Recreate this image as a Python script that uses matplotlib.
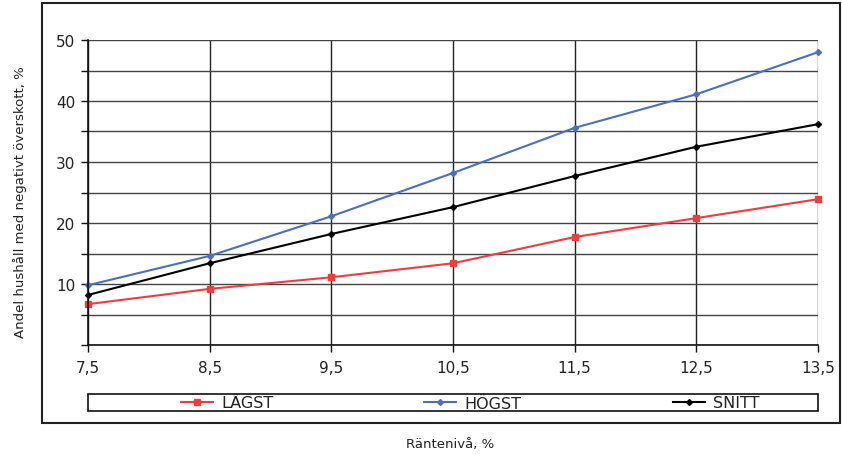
import matplotlib
matplotlib.use("Agg")
import matplotlib.pyplot as plt
from matplotlib.patches import Rectangle
from matplotlib.ticker import MultipleLocator, FixedLocator

# Data
x_vals = [7.5, 8.5, 9.5, 10.5, 11.5, 12.5, 13.5]
x_labels = ["7,5", "8,5", "9,5", "10,5", "11,5", "12,5", "13,5"]
lagst = [6.7, 9.2, 11.1, 13.4, 17.7, 20.8, 23.9]
hogst = [9.8, 14.6, 21.1, 28.2, 35.6, 41.1, 48.0]
snitt = [8.2, 13.4, 18.2, 22.6, 27.7, 32.5, 36.2]
series_names = ["LÄGST", "HÖGST", "SNITT"]
y_label = "Andel hushåll med negativt överskott, %"
x_label = "Räntenivå, %"

W, H = 842, 456
plt.rcParams['font.family'] = ['DejaVu Sans']
fig = plt.figure(figsize=(W / 100, H / 100), dpi=100)

# outer frame
fig.patches.append(Rectangle((42 / W, 1 - 424 / H), (840 - 42) / W, (424 - 4) / H,
                             transform=fig.transFigure, fill=False, lw=1.5, ec='#222222'))

ax = fig.add_axes([88 / W, 1 - 346 / H, (818 - 88) / W, (346 - 41) / H])
ax.set_xlim(7.5, 13.5)
ax.set_ylim(0, 50)

ax.yaxis.set_major_locator(FixedLocator([10, 20, 30, 40, 50]))
ax.yaxis.set_minor_locator(MultipleLocator(5))
ax.xaxis.set_major_locator(FixedLocator(x_vals))
ax.set_xticklabels(x_labels)
ax.grid(True, which='both', axis='y', color='#444444', lw=1)
ax.grid(True, which='major', axis='x', color='#222222', lw=1)
ax.set_axisbelow(True)
for s in ['top', 'right']:
    ax.spines[s].set_visible(False)
for s in ['left', 'bottom']:
    ax.spines[s].set_color('#111111')
    ax.spines[s].set_linewidth(1.2)
ax.tick_params(axis='y', which='both', length=5, width=1, color='#111111', labelsize=11,
               pad=4, labelcolor='#222222')
ax.tick_params(axis='x', which='major', length=5, width=1, color='#111111', labelsize=11,
               pad=6, labelcolor='#222222')

l1, = ax.plot(x_vals, lagst, color='#F03C3C', lw=1.5, marker='s', ms=4.5, label=series_names[0], clip_on=False)
l2, = ax.plot(x_vals, hogst, color='#4A6FBE', lw=1.5, marker='D', ms=3, label=series_names[1], clip_on=False)
l3, = ax.plot(x_vals, snitt, color='#000000', lw=1.5, marker='D', ms=3, label=series_names[2], clip_on=False)

# legend box
fig.patches.append(Rectangle((88 / W, 1 - 412 / H), (818 - 88) / W, (412 - 395) / H,
                             transform=fig.transFigure, fill=False, lw=1.2, ec='#111111'))
legend_x = [181, 424, 673]
for h, xp in zip([l1, l2, l3], legend_x):
    fig.legend(handles=[h], loc='center left', bbox_to_anchor=(xp / W, 1 - 404 / H),
               bbox_transform=fig.transFigure, frameon=False,
               prop={'family': ['DejaVu Sans'], 'size': 11.5},
               handlelength=2.0, handletextpad=0.5, borderpad=0, borderaxespad=0,
               labelcolor='#222222')

fig.text(20 / W, 1 - 202 / H, y_label, rotation=90, ha='center', va='center', fontsize=9.5,
         color='#222222')
fig.text(450 / W, 1 - 445 / H, x_label, ha='center', va='center', fontsize=9.5, color='#222222')

fig.savefig("out.png", dpi=100)
